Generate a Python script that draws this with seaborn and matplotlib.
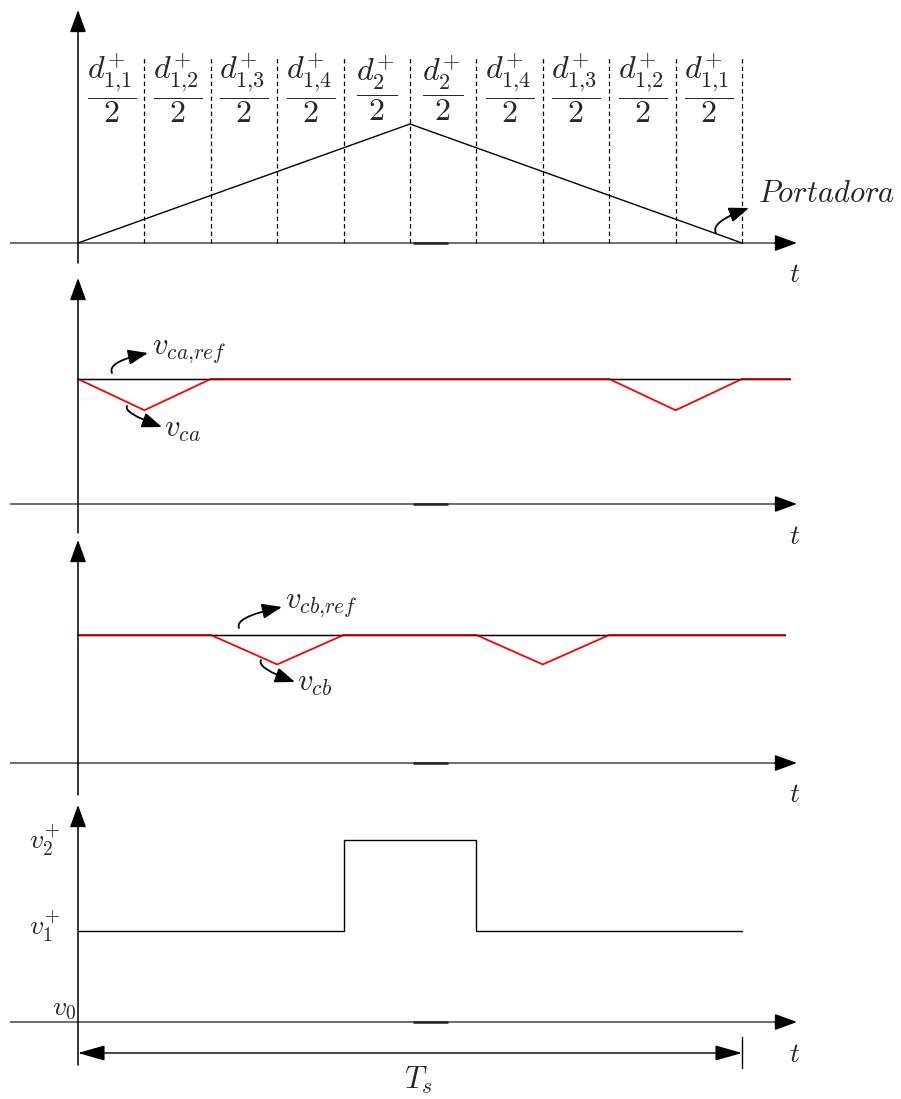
import matplotlib
matplotlib.use("Agg")
import matplotlib.pyplot as plt
import seaborn as sns

# ---- data -------------------------------------------------------------
seg_names = ['1{,}1', '1{,}2', '1{,}3', '1{,}4', '2', '2',
             '1{,}4', '1{,}3', '1{,}2', '1{,}1']
seg_width = [0.1, 0.1, 0.1, 0.1, 0.1, 0.1, 0.1, 0.1, 0.1, 0.1]

carrier_t = [0.0, 0.5, 1.0]
carrier_v = [0.0, 1.0, 0.0]

vca_ref_t = [0.0, 1.072]
vca_ref_v = [1.0, 1.0]
vca_t = [0.0, 0.1, 0.2, 0.8, 0.9, 1.0, 1.072]
vca_v = [1.0, 0.75, 1.0, 1.0, 0.75, 1.0, 1.0]

vcb_ref_t = [0.0, 1.065]
vcb_ref_v = [1.0, 1.0]
vcb_t = [0.0, 0.2, 0.3, 0.4, 0.6, 0.7, 0.8, 1.065]
vcb_v = [1.0, 1.0, 0.77, 1.0, 1.0, 0.77, 1.0, 1.0]

vo_t = [0.0, 0.4, 0.4, 0.6, 0.6, 1.0]
vo_v = [1.0, 1.0, 2.0, 2.0, 1.0, 1.0]
level_labels = [r'$v_2^{+}$', r'$v_1^{+}$', r'$v_0$']
level_values = [2.0, 1.0, 0.0]

# ---- style ------------------------------------------------------------
sns.set_theme(style='white')
plt.rcParams['font.family'] = ['DejaVu Serif']
plt.rcParams['mathtext.fontset'] = 'cm'

W, H = 901, 1099
fig = plt.figure(figsize=(W / 100, H / 100), dpi=100)

X_ORIGIN, X_SPAN = 78.0, 664.0          # pixel position of t=0 and length of Ts
RED = '#ff0000'


def tx(px):
    return (px - X_ORIGIN) / X_SPAN


class Panel:
    def __init__(self, top, bot, zero, ppu):
        self.zero, self.ppu = zero, ppu
        self.ax = fig.add_axes([0, 1 - bot / H, 1, (bot - top) / H])
        self.ax.set_xlim(tx(0), tx(W))
        self.ax.set_ylim((zero - bot) / ppu, (zero - top) / ppu)
        self.ax.axis('off')
        self.ax.patch.set_visible(False)

    def y(self, px):
        return (self.zero - px) / self.ppu

    def axes_arrows(self, v_bottom, v_top):
        ax = self.ax
        head = dict(arrowstyle='-|>,head_length=1.15,head_width=0.42',
                    color='black', lw=1.1, shrinkA=0, shrinkB=0)
        # time axis: grey shaft, black head
        ax.plot([tx(10), tx(785)], [0, 0], color='#555555', lw=1.2,
                solid_capstyle='butt')
        ax.annotate('', xy=(tx(797), 0), xytext=(tx(775), 0), arrowprops=head)
        ax.annotate('', xy=(0, self.y(v_top)), xytext=(0, self.y(v_bottom)),
                    arrowprops=head)
        # short darker stroke on the time axis
        ax.plot([tx(413), tx(448)], [0, 0], color='#222222', lw=1.8,
                solid_capstyle='butt')
        ax.text(tx(795), self.y(self.zero + 32), r'$t$', fontsize=20,
                ha='center', va='center')


def curved_note(ax, label, tail, head, angles, text_xy, size=22):
    ax.annotate('', xy=head, xytext=tail,
                arrowprops=dict(arrowstyle='-|>,head_length=1.0,head_width=0.38',
                                color='black', lw=1.3, shrinkA=0, shrinkB=0,
                                connectionstyle='angle3,angleA=%d,angleB=%d' % angles))
    ax.text(*text_xy, label, fontsize=size, ha='left', va='center')


def ref_and_signal(ax, rt, rv, st, sv):
    sns.lineplot(x=rt, y=rv, ax=ax, color='black', lw=1.0,
                 estimator=None, sort=False)
    sns.lineplot(x=st, y=sv, ax=ax, color=RED, lw=1.3,
                 estimator=None, sort=False)
    # reference drawn again translucently so the overlap reads dark red
    sns.lineplot(x=rt, y=rv, ax=ax, color='black', lw=1.0, alpha=0.45,
                 estimator=None, sort=False)


# ---- panel 1: carrier --------------------------------------------------
p1 = Panel(0, 290, 243, 119)
ax = p1.ax
p1.axes_arrows(263, 10)
sns.lineplot(x=carrier_t, y=carrier_v, ax=ax, color='black', lw=1.0,
             estimator=None, sort=False)
edges = [0.0]
for w in seg_width:
    edges.append(edges[-1] + w)
for e in edges[1:]:
    ax.plot([e, e], [0, p1.y(58)], color='black', lw=0.9, ls=(0, (3.5, 2.5)))
for name, a, b in zip(seg_names, edges[:-1], edges[1:]):
    ax.text((a + b) / 2, p1.y(88), r'$\dfrac{d^{+}_{%s}}{2}$' % name,
            fontsize=23, ha='center', va='center')
curved_note(ax, r'$Portadora$', (tx(716), p1.y(233)), (tx(749), p1.y(208)),
            (120, 20), (tx(758), p1.y(193)))

# ---- panel 2: v_ca ------------------------------------------------------
p2 = Panel(270, 545, 504, 125)
ax = p2.ax
p2.axes_arrows(533, 278)
ref_and_signal(ax, vca_ref_t, vca_ref_v, vca_t, vca_v)
curved_note(ax, r'$v_{ca{,}ref}$', (tx(112), p2.y(373)), (tx(148), p2.y(353)),
            (115, 12), (tx(152), p2.y(351)))
curved_note(ax, r'$v_{ca}$', (tx(127), p2.y(406)), (tx(162), p2.y(427)),
            (240, -20), (tx(164), p2.y(428)))

# ---- panel 3: v_cb ------------------------------------------------------
p3 = Panel(530, 805, 763, 128)
ax = p3.ax
p3.axes_arrows(795, 540)
ref_and_signal(ax, vcb_ref_t, vcb_ref_v, vcb_t, vcb_v)
curved_note(ax, r'$v_{cb{,}ref}$', (tx(239), p3.y(628)), (tx(282), p3.y(607)),
            (115, 12), (tx(285), p3.y(604)))
curved_note(ax, r'$v_{cb}$', (tx(261), p3.y(660)), (tx(295), p3.y(682)),
            (240, -20), (tx(297), p3.y(683)))

# ---- panel 4: output voltage -------------------------------------------
p4 = Panel(795, 1099, 1022, 91)
ax = p4.ax
p4.axes_arrows(1065, 805)
sns.lineplot(x=vo_t, y=vo_v, ax=ax, color='black', lw=1.0,
             estimator=None, sort=False)
label_x = [tx(45), tx(45), tx(64)]
label_dy = [0, -5, -14]
for lab, val, lx, dy in zip(level_labels, level_values, label_x, label_dy):
    ax.text(lx, val + (-dy) / p4.ppu, lab, fontsize=20, ha='center', va='center')

# period arrow
y_ts = p4.y(1053)
ax.annotate('', xy=(edges[-1], y_ts), xytext=(edges[0], y_ts),
            arrowprops=dict(arrowstyle='<|-|>,head_length=1.4,head_width=0.4',
                            color='black', lw=1.0, shrinkA=0, shrinkB=0))
ax.plot([edges[-1], edges[-1]], [p4.y(1037), p4.y(1068)], color='black', lw=1.0)
ax.text(tx(418), p4.y(1080), r'$T_s$', fontsize=22, ha='center', va='center')

fig.savefig('out.png', dpi=100)
